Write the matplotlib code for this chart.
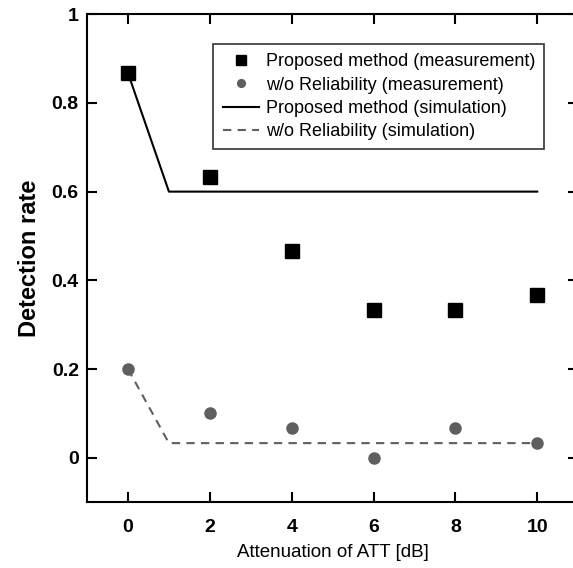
import matplotlib

matplotlib.use("Agg")

import matplotlib.pyplot as plt

ATT_DB = [0, 2, 4, 6, 8, 10]
PROPOSED_MEAS = [0.867, 0.633, 0.467, 0.333, 0.333, 0.367]
WO_REL_MEAS = [0.2, 0.1, 0.067, 0.0, 0.067, 0.033]
SIM_X = [0, 1, 10]
PROPOSED_SIM = [0.867, 0.6, 0.6]
WO_REL_SIM = [0.2, 0.033, 0.033]
X_TICKS = [0, 2, 4, 6, 8, 10]
Y_TICKS = [0, 0.2, 0.4, 0.6, 0.8, 1.0]
Y_TICK_LABELS = ["0", "0.2", "0.4", "0.6", "0.8", "1"]

FONT = ["Liberation Sans", "DejaVu Sans"]
GRAY = "#5f5f5f"

plt.rcParams["font.family"] = FONT

fig = plt.figure(figsize=(5.73, 5.68), dpi=100)
ax = fig.add_axes([0.152, 0.116, 0.857, 0.859])

ax.plot(SIM_X, PROPOSED_SIM, color="black", lw=1.5, label="Proposed method (simulation)")
ax.plot(SIM_X, WO_REL_SIM, color=GRAY, lw=1.5, ls=(0, (4, 3)), label="w/o Reliability (simulation)")
ax.plot(ATT_DB, PROPOSED_MEAS, "s", color="black", ms=10, label="Proposed method (measurement)")
ax.plot(ATT_DB, WO_REL_MEAS, "o", color=GRAY, ms=8, label="w/o Reliability (measurement)")

ax.set_xlim(-1, 11)
ax.set_ylim(-0.1, 1.0)
ax.set_xticks(X_TICKS)
ax.set_yticks(Y_TICKS)
ax.set_yticklabels(Y_TICK_LABELS)
for spine in ax.spines.values():
    spine.set_linewidth(1.5)
ax.tick_params(direction="in", length=7, width=1.5, top=True, right=True, labelsize=14)
ax.tick_params(axis="x", pad=12)
ax.tick_params(axis="y", pad=6)
for lbl in ax.get_xticklabels() + ax.get_yticklabels():
    lbl.set_fontweight("bold")

ax.set_xlabel("Attenuation of ATT [dB]", fontsize=13.5, labelpad=6)
ax.set_ylabel("Detection rate", fontsize=17, fontweight="bold", labelpad=8)

handles, labels = ax.get_legend_handles_labels()
order = [2, 3, 0, 1]
leg = ax.legend(
    [handles[i] for i in order],
    [labels[i] for i in order],
    loc="upper left",
    bbox_to_anchor=(0.239, 0.957),
    fontsize=13,
    frameon=True,
    fancybox=False,
    edgecolor="black",
    handlelength=2.0,
    handletextpad=0.4,
    labelspacing=0.35,
    borderpad=0.5,
    markerscale=0.7,
)
leg.get_frame().set_linewidth(1.2)

fig.savefig("out.png", dpi=100)
